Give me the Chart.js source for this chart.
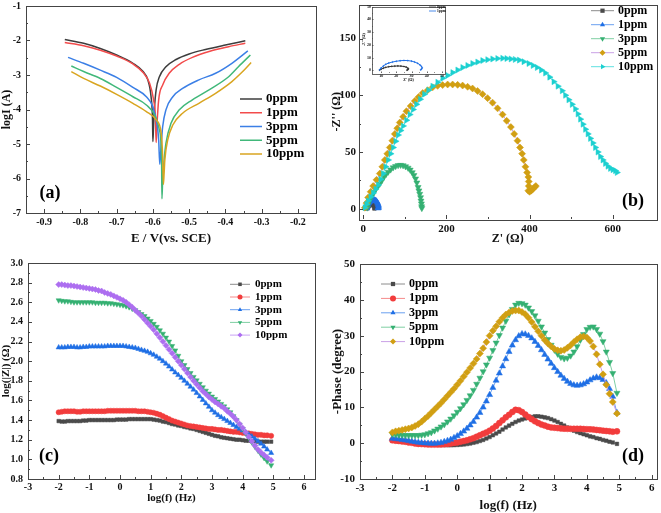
<!DOCTYPE html>
<html>
<head>
<meta charset="utf-8">
<script src="https://cdn.jsdelivr.net/npm/chart.js@4.4.1/dist/chart.umd.min.js"></script>
<style>
  body { margin: 0; background: #fff; }
  #fig { position: relative; width: 661px; height: 513px; overflow: hidden; }
  #fig canvas { position: absolute; }
  .tag { position: absolute; transform: translate(-50%, -50%); font: bold 18px "Liberation Serif", serif; color: #000; }
</style>
</head>
<body>
<div id="fig">
  <canvas id="polar" width="330" height="250" style="left:0;top:0"></canvas>
  <canvas id="nyq" width="331" height="250" style="left:330px;top:0"></canvas>
  <canvas id="nyqIn" width="88" height="80" style="left:362px;top:2px"></canvas>
  <canvas id="bodeZ" width="330" height="263" style="left:0;top:250px"></canvas>
  <canvas id="bodeP" width="331" height="263" style="left:330px;top:250px"></canvas>
  <div class="tag" style="left:50px;top:192px">(a)</div>
  <div class="tag" style="left:633px;top:200px">(b)</div>
  <div class="tag" style="left:49px;top:455px">(c)</div>
  <div class="tag" style="left:633px;top:455px">(d)</div>
</div>
<script>
var ppm = ['0ppm', '1ppm', '3ppm', '5ppm', '10ppm'];

// (a) polarization curves: E (V vs SCE) and log I
var e0 = [-0.843, -0.791, -0.745, -0.700, -0.655, -0.627, -0.614, -0.605, -0.601, -0.600, -0.598, -0.596, -0.591, -0.582, -0.564, -0.536, -0.500, -0.455, -0.400, -0.345];
var logI0 = [-1.97, -2.08, -2.23, -2.42, -2.66, -2.90, -3.14, -3.63, -4.30, -4.93, -4.45, -4.01, -3.43, -3.05, -2.76, -2.55, -2.39, -2.26, -2.13, -2.01];
var e1 = [-0.843, -0.791, -0.745, -0.700, -0.655, -0.627, -0.609, -0.598, -0.593, -0.591, -0.589, -0.584, -0.573, -0.555, -0.527, -0.491, -0.445, -0.391, -0.345];
var logI1 = [-2.06, -2.15, -2.28, -2.45, -2.68, -2.93, -3.24, -3.72, -4.21, -4.96, -4.50, -3.72, -3.29, -2.95, -2.69, -2.49, -2.32, -2.18, -2.08];
var e3 = [-0.834, -0.791, -0.745, -0.700, -0.655, -0.618, -0.600, -0.589, -0.584, -0.581, -0.578, -0.573, -0.564, -0.545, -0.518, -0.473, -0.427, -0.382, -0.338];
var logI3 = [-2.49, -2.66, -2.86, -3.07, -3.36, -3.63, -3.92, -4.40, -4.88, -5.59, -5.17, -4.50, -4.01, -3.63, -3.39, -3.14, -2.95, -2.66, -2.30];
var e5 = [-0.825, -0.791, -0.745, -0.700, -0.655, -0.618, -0.595, -0.582, -0.576, -0.575, -0.573, -0.569, -0.564, -0.550, -0.527, -0.491, -0.445, -0.391, -0.364, -0.331];
var logI5 = [-2.74, -2.90, -3.10, -3.36, -3.63, -3.87, -4.16, -4.59, -5.46, -6.59, -6.04, -5.46, -4.98, -4.40, -4.01, -3.72, -3.43, -3.05, -2.76, -2.42];
var e10 = [-0.825, -0.791, -0.745, -0.700, -0.655, -0.618, -0.591, -0.577, -0.573, -0.571, -0.569, -0.567, -0.559, -0.545, -0.518, -0.473, -0.427, -0.382, -0.355, -0.329];
var logI10 = [-2.90, -3.10, -3.32, -3.56, -3.82, -4.06, -4.30, -4.69, -5.37, -6.17, -5.85, -5.46, -4.88, -4.45, -4.11, -3.82, -3.53, -3.19, -2.93, -2.64];

// (b) Nyquist: Z' and -Z'' in ohm
var zr0 = [9, 10, 11.5, 13, 15, 17, 19, 21, 23, 25, 26.5, 27.5, 28, 27.5, 27];
var zi0 = [0.3, 1, 1.8, 2.4, 2.9, 3.2, 3.4, 3.5, 3.4, 3.1, 2.6, 1.9, 1.2, 0.6, 0.2];
var zr1 = [9, 10, 11.5, 13, 15, 17.5, 20, 22.5, 25, 27.5, 30, 32, 34, 35.5, 36.5, 37, 36.5, 36];
var zi1 = [0.5, 2, 3.5, 4.8, 5.8, 6.6, 7.2, 7.6, 7.8, 7.7, 7.3, 6.6, 5.6, 4.4, 3.2, 2, 1, 0.5];
var zr3 = [10, 12, 15, 18, 22, 26, 30, 35, 40, 45, 50, 55, 60, 66, 72, 78, 84, 90, 96, 102, 108, 113, 118, 122, 126, 129, 132, 134, 136, 138, 139, 140, 140.5, 141];
var zi3 = [1, 4, 7, 9.5, 12, 14.5, 17, 19.5, 22, 25, 28, 30.5, 32.5, 34.5, 36.3, 37.5, 38.3, 38.5, 38.2, 37.3, 36, 34.3, 32, 29.5, 26.5, 23, 19, 16, 13, 10, 7, 4.5, 2, 0.5];
var zr5 = [4, 8, 12, 18, 24, 32, 40, 46, 52, 58, 64, 70, 76, 82, 88, 96, 104, 114, 124, 133, 143, 155, 167, 179, 191, 203, 215, 227, 239, 251, 263, 275, 287, 299, 311, 323, 335, 345, 355, 363, 371, 377, 382, 386, 390, 394, 397, 398, 398, 397, 400, 404, 408, 412, 415];
var zi5 = [1, 5, 10, 15, 20, 25.5, 31, 37, 43, 48.5, 54, 60, 66, 71, 76, 81, 86, 90.5, 95, 98.5, 102, 104.5, 107, 108.3, 109, 109.5, 109.5, 109.2, 108.6, 107.5, 106, 103.8, 101, 97.5, 93.5, 88.5, 83, 77.5, 72, 66, 60, 54, 48.6, 43, 37, 32, 28, 24, 20, 16, 15, 16, 17.5, 19, 20];
var zr10 = [4, 8, 12, 18, 24, 30, 36, 42, 48, 54, 60, 66, 72, 78, 84, 90, 96, 104, 112, 120, 128, 137, 147, 157, 167, 179, 191, 203, 215, 227, 239, 251, 263, 275, 287, 299, 311, 323, 335, 345, 355, 365, 375, 386, 398, 408, 418, 428, 438, 448, 458, 468, 478, 486, 494, 502, 510, 516, 522, 528, 534, 540, 546, 552, 558, 564, 570, 576, 582, 588, 594, 600, 606, 610];
var zi10 = [1, 4, 7, 10.5, 14, 17.5, 21, 26, 31, 37, 43, 48.5, 54, 59.5, 65, 69, 73, 78, 83, 87.5, 92, 96.5, 101, 104.5, 108, 111.5, 115, 117.5, 120, 122.3, 124.5, 126.3, 128, 129.3, 130.6, 131.4, 132, 132.4, 132.6, 132.4, 132, 131.6, 131, 129.6, 128, 126.3, 124.5, 122.2, 119.6, 116, 112, 108, 104, 100, 96, 92, 88, 83.5, 79, 74.5, 70, 66, 62, 58, 54, 50, 46, 43, 40, 37.5, 35.6, 34.5, 33.6, 32];

// (c)/(d) Bode: log f, log|Z|, -phase (one row per decade)
var logF = [-2.0, -1.9, -1.8, -1.7, -1.6, -1.5, -1.4, -1.3, -1.2, -1.1,
  -1.0, -0.9, -0.8, -0.7, -0.6, -0.5, -0.4, -0.3, -0.2, -0.1,
  0.0, 0.1, 0.2, 0.3, 0.4, 0.5, 0.6, 0.7, 0.8, 0.9,
  1.0, 1.1, 1.2, 1.3, 1.4, 1.5, 1.6, 1.7, 1.8, 1.9,
  2.0, 2.1, 2.2, 2.3, 2.4, 2.5, 2.6, 2.7, 2.8, 2.9,
  3.0, 3.1, 3.2, 3.3, 3.4, 3.5, 3.6, 3.7, 3.8, 3.9,
  4.0, 4.1, 4.2, 4.3, 4.4, 4.5, 4.6, 4.7, 4.8, 4.93];
var absZ0 = [1.39, 1.385, 1.385, 1.39, 1.39, 1.39, 1.39, 1.39, 1.395, 1.395,
  1.40, 1.40, 1.40, 1.40, 1.40, 1.40, 1.40, 1.40, 1.40, 1.405,
  1.405, 1.405, 1.405, 1.41, 1.41, 1.41, 1.41, 1.41, 1.41, 1.41,
  1.41, 1.405, 1.40, 1.395, 1.385, 1.38, 1.37, 1.36, 1.355, 1.345,
  1.34, 1.33, 1.325, 1.315, 1.31, 1.30, 1.29, 1.28, 1.27, 1.26,
  1.25, 1.24, 1.235, 1.225, 1.22, 1.215, 1.21, 1.205, 1.20, 1.20,
  1.195, 1.19, 1.19, 1.185, 1.185, 1.18, 1.18, 1.18, 1.18, 1.18];
var absZ1 = [1.48, 1.485, 1.49, 1.49, 1.49, 1.49, 1.485, 1.485, 1.49, 1.49,
  1.49, 1.49, 1.49, 1.49, 1.49, 1.49, 1.495, 1.495, 1.495, 1.495,
  1.495, 1.495, 1.495, 1.495, 1.495, 1.495, 1.49, 1.49, 1.49, 1.485,
  1.48, 1.475, 1.465, 1.455, 1.44, 1.425, 1.41, 1.395, 1.385, 1.375,
  1.365, 1.355, 1.345, 1.34, 1.335, 1.33, 1.325, 1.32, 1.315, 1.31,
  1.31, 1.305, 1.30, 1.30, 1.295, 1.29, 1.285, 1.28, 1.28, 1.275,
  1.27, 1.268, 1.265, 1.26, 1.255, 1.25, 1.25, 1.245, 1.245, 1.24];
var absZ3 = [2.14, 2.14, 2.14, 2.145, 2.145, 2.145, 2.14, 2.14, 2.145, 2.145,
  2.15, 2.15, 2.15, 2.15, 2.15, 2.15, 2.155, 2.155, 2.155, 2.155,
  2.155, 2.155, 2.15, 2.145, 2.14, 2.135, 2.125, 2.115, 2.105, 2.095,
  2.08, 2.065, 2.045, 2.025, 2.00, 1.975, 1.945, 1.915, 1.885, 1.858,
  1.83, 1.80, 1.77, 1.74, 1.71, 1.675, 1.64, 1.605, 1.57, 1.535,
  1.50, 1.475, 1.45, 1.43, 1.41, 1.39, 1.37, 1.35, 1.33, 1.312,
  1.295, 1.275, 1.255, 1.232, 1.21, 1.185, 1.16, 1.13, 1.10, 1.065];
var absZ5 = [2.62, 2.615, 2.61, 2.61, 2.605, 2.60, 2.60, 2.60, 2.60, 2.60,
  2.60, 2.60, 2.595, 2.595, 2.595, 2.595, 2.59, 2.59, 2.585, 2.58,
  2.575, 2.57, 2.56, 2.55, 2.535, 2.52, 2.50, 2.48, 2.46, 2.435,
  2.41, 2.38, 2.35, 2.315, 2.28, 2.24, 2.20, 2.155, 2.11, 2.055,
  2.00, 1.96, 1.92, 1.88, 1.84, 1.805, 1.77, 1.735, 1.70, 1.67,
  1.64, 1.615, 1.59, 1.565, 1.54, 1.51, 1.48, 1.44, 1.40, 1.355,
  1.31, 1.265, 1.22, 1.175, 1.13, 1.09, 1.05, 1.015, 0.98, 0.94];
var absZ10 = [2.78, 2.78, 2.775, 2.77, 2.77, 2.765, 2.76, 2.755, 2.75, 2.745,
  2.74, 2.735, 2.73, 2.72, 2.715, 2.70, 2.69, 2.68, 2.665, 2.65,
  2.635, 2.62, 2.60, 2.575, 2.55, 2.52, 2.49, 2.46, 2.425, 2.39,
  2.355, 2.32, 2.28, 2.24, 2.20, 2.16, 2.12, 2.08, 2.04, 2.00,
  1.96, 1.92, 1.88, 1.84, 1.80, 1.765, 1.73, 1.695, 1.665, 1.635,
  1.61, 1.585, 1.565, 1.54, 1.52, 1.49, 1.465, 1.435, 1.40, 1.36,
  1.32, 1.275, 1.23, 1.185, 1.14, 1.10, 1.07, 1.045, 1.02, 0.99];
var phase0 = [0.7, 0.6, 0.5, 0.4, 0.3, 0.2, 0.1, 0, -0.1, -0.15,
  -0.2, -0.3, -0.35, -0.4, -0.45, -0.5, -0.55, -0.6, -0.6, -0.55,
  -0.5, -0.45, -0.35, -0.25, -0.1, 0.1, 0.3, 0.6, 0.9, 1.3,
  1.7, 2.2, 2.7, 3.2, 3.8, 4.4, 4.9, 5.4, 5.9, 6.3,
  6.6, 6.9, 7.1, 7.3, 7.5, 7.5, 7.4, 7.2, 7.0, 6.7,
  6.3, 5.9, 5.4, 4.9, 4.4, 3.9, 3.5, 3.1, 2.8, 2.5,
  2.2, 1.9, 1.7, 1.4, 1.2, 0.9, 0.7, 0.4, 0.2, -0.2];
var phase1 = [0.8, 0.7, 0.6, 0.5, 0.4, 0.2, 0.1, -0.1, -0.2, -0.25,
  -0.3, -0.35, -0.4, -0.4, -0.4, -0.35, -0.3, -0.2, -0.1, 0.05,
  0.2, 0.4, 0.6, 0.8, 1.1, 1.4, 1.8, 2.2, 2.6, 3.0,
  3.5, 4.1, 4.8, 5.6, 6.4, 7.2, 7.9, 8.7, 9.3, 9.2,
  8.7, 8.0, 7.3, 6.7, 6.1, 5.6, 5.2, 4.9, 4.6, 4.4,
  4.3, 4.2, 4.1, 4.05, 4.0, 4.0, 4.0, 4.0, 4.0, 3.95,
  3.9, 3.85, 3.8, 3.7, 3.6, 3.5, 3.4, 3.3, 3.2, 3.3];
var phase3 = [1.3, 1.2, 1.1, 0.95, 0.8, 0.65, 0.5, 0.35, 0.2, 0.1,
  0, -0.05, -0.1, -0.1, 0, 0.15, 0.4, 0.7, 1.0, 1.5,
  2.0, 2.6, 3.3, 4.1, 5.0, 6.0, 7.2, 8.5, 10.0, 11.7,
  13.5, 15.5, 17.5, 19.5, 21.5, 23.5, 25.5, 27.3, 28.8, 29.9,
  30.5, 30.4, 30.0, 29.3, 28.3, 27.2, 26.0, 24.7, 23.4, 22.2,
  21.0, 19.9, 18.9, 18.0, 17.2, 16.6, 16.2, 16.1, 16.2, 16.5,
  17.0, 17.6, 18.1, 18.4, 18.2, 17.7, 16.8, 15.2, 13.0, 8.5];
var phase5 = [2.5, 2.4, 2.3, 2.25, 2.2, 2.2, 2.2, 2.2, 2.2, 2.3,
  2.4, 2.7, 3.0, 3.5, 4.0, 4.6, 5.2, 6.0, 6.8, 7.7,
  8.7, 9.7, 10.8, 12.0, 13.3, 14.8, 16.5, 18.2, 20.0, 21.9,
  23.8, 25.9, 28.0, 30.1, 32.2, 34.1, 35.9, 37.4, 38.6, 39.1,
  39.0, 38.6, 37.8, 36.8, 35.6, 34.1, 32.5, 30.8, 29.0, 27.4,
  26.0, 24.9, 24.0, 23.6, 23.8, 24.4, 25.5, 27.0, 28.8, 30.4,
  31.8, 32.4, 32.5, 31.8, 30.5, 28.4, 25.5, 22.6, 19.5, 14.0];
var phase10 = [3.0, 3.3, 3.5, 3.7, 3.9, 4.1, 4.4, 4.8, 5.3, 6.0,
  6.8, 7.6, 8.5, 9.4, 10.3, 11.2, 12.2, 13.2, 14.2, 15.2,
  16.3, 17.4, 18.6, 19.8, 21.0, 22.2, 23.5, 25.0, 26.5, 28.2,
  30.0, 31.4, 32.6, 33.9, 35.0, 35.9, 36.5, 36.9, 37.0, 37.0,
  36.6, 36.0, 35.0, 33.8, 32.5, 31.2, 30.0, 28.8, 27.8, 27.0,
  26.3, 25.9, 25.8, 26.0, 26.6, 27.3, 28.2, 29.0, 29.6, 29.8,
  29.5, 28.5, 27.0, 24.8, 22.0, 19.2, 16.3, 13.8, 11.5, 8.3];

// tick labels
var ticksEx = [-0.9, -0.8, -0.7, -0.6, -0.5, -0.4, -0.3, -0.2];
var ticksLogI = [-7, -6, -5, -4, -3, -2, -1];
var ticksZr = [0, 200, 400, 600];
var ticksZi = [0, 50, 100, 150];
var ticksF = [-3, -2, -1, 0, 1, 2, 3, 4, 5, 6];
var ticksAbs = [0.8, 1.0, 1.2, 1.4, 1.6, 1.8, 2.0, 2.2, 2.4, 2.6, 2.8, 3.0];
var ticksPh = [-10, 0, 10, 20, 30, 40, 50];
var ticksInX = [10, 20, 30, 40, 50];
var ticksInY = [0, 10, 20, 30, 40, 50];

var serif = '"Liberation Serif", "Times New Roman", serif';

// box frame plus small inward ticks, Origin style
var framePlugin = {
  id: 'frame',
  afterDatasetsDraw: function (chart, args, o) {
    var a = chart.chartArea, ctx = chart.ctx;
    var sx = chart.scales.x, sy = chart.scales.y;
    ctx.save();
    ctx.strokeStyle = o.color || '#333';
    ctx.lineWidth = o.width || 1;
    ctx.strokeRect(Math.round(a.left) + 0.5, Math.round(a.top) + 0.5, Math.round(a.right - a.left), Math.round(a.bottom - a.top));
    var big = o.tick || 4, small = big / 2;
    ctx.beginPath();
    var xs = sx.ticks.map(function (t) { return t.value; });
    xs.forEach(function (v, i) {
      var p = Math.round(sx.getPixelForValue(v)) + 0.5;
      ctx.moveTo(p, a.bottom); ctx.lineTo(p, a.bottom - big);
      if (i > 0) {
        var m = Math.round(sx.getPixelForValue((v + xs[i - 1]) / 2)) + 0.5;
        ctx.moveTo(m, a.bottom); ctx.lineTo(m, a.bottom - small);
      }
    });
    var ys = sy.ticks.map(function (t) { return t.value; });
    ys.forEach(function (v, i) {
      var p = Math.round(sy.getPixelForValue(v)) + 0.5;
      ctx.moveTo(a.left, p); ctx.lineTo(a.left + big, p);
      if (i > 0) {
        var m = Math.round(sy.getPixelForValue((v + ys[i - 1]) / 2)) + 0.5;
        ctx.moveTo(a.left, m); ctx.lineTo(a.left + small, m);
      }
    });
    ctx.stroke();
    ctx.restore();
  }
};

// legend drawn inside the plot, one row per dataset
var keyPlugin = {
  id: 'key',
  afterDraw: function (chart, args, o) {
    var ctx = chart.ctx;
    ctx.save();
    ctx.font = 'bold ' + o.size + 'px ' + serif;
    ctx.textBaseline = 'middle';
    chart.data.datasets.forEach(function (ds, i) {
      var yy = o.y + i * o.gap;
      ctx.strokeStyle = ds.borderColor;
      ctx.lineWidth = o.lw || 1;
      ctx.beginPath();
      ctx.moveTo(o.x0, yy); ctx.lineTo(o.x1, yy);
      ctx.stroke();
      if (o.r) {
        ctx.fillStyle = ds.pointBackgroundColor;
        Chart.helpers.drawPoint(ctx, { pointStyle: ds.pointStyle, rotation: ds.pointRotation || 0, radius: o.r, borderWidth: 0 }, (o.x0 + o.x1) / 2, yy);
      }
      ctx.fillStyle = '#000';
      ctx.fillText(ds.label, o.tx, yy);
    });
    ctx.restore();
  }
};

function axis(min, max, ticks, digits, size, pad, title, tsize, tpad, boxSize) {
  return {
    type: 'linear', min: min, max: max,
    grid: { display: false, drawTicks: false },
    border: { display: false },
    afterBuildTicks: function (s) { s.ticks = ticks.map(function (v) { return { value: v }; }); },
    ticks: {
      padding: pad, color: '#111', autoSkip: false, maxRotation: 0,
      font: { family: serif, size: size, weight: 'bold' },
      callback: function (v) { return Number(v).toFixed(digits); }
    },
    title: {
      display: true, text: title, color: '#111', padding: { top: tpad, bottom: tpad },
      font: { family: serif, size: tsize, weight: 'bold' }
    },
    afterFit: function (s) {
      if (s.isHorizontal()) { s.height = boxSize; s.paddingLeft = 0; s.paddingRight = 0; }
      else { s.width = boxSize; s.paddingTop = 0; s.paddingBottom = 0; }
    }
  };
}

function pts(xs, ys) {
  return xs.map(function (x, i) { return { x: x, y: ys[i] }; });
}

function curve(xs, ys, i, color) {
  return {
    label: ppm[i], data: pts(xs, ys), showLine: true, order: -i,
    borderColor: color, borderWidth: 1.5, pointRadius: 0,
    cubicInterpolationMode: 'monotone'
  };
}

function marks(xs, ys, i, fill, line, shape, rot, r) {
  return {
    label: ppm[i], data: pts(xs, ys), showLine: true, order: -i,
    borderColor: line, borderWidth: 1,
    pointStyle: shape, pointRotation: rot, pointRadius: r,
    pointBackgroundColor: fill, pointBorderColor: fill, pointBorderWidth: 0.5
  };
}

function makeChart(id, datasets, pad, xAxis, yAxis, frame, key) {
  return new Chart(document.getElementById(id), {
    type: 'scatter',
    data: { datasets: datasets },
    options: {
      responsive: false, animation: false, events: [],
      layout: { padding: pad },
      scales: { x: xAxis, y: yAxis },
      plugins: { legend: { display: false }, tooltip: { enabled: false }, frame: frame, key: key }
    },
    plugins: [framePlugin, keyPlugin]
  });
}

var gray = '#4a4a4a', red = '#f23c3c', blue = '#1f6fe5', green = '#35b072', gold = '#d19f12', cyan = '#1cd0d0', purple = '#ad6ef0';

// (a)
makeChart('polar', [
  curve(e0, logI0, 0, '#3d3d3d'),
  curve(e1, logI1, 1, '#f24b4b'),
  curve(e3, logI3, 2, '#3b7fe6'),
  curve(e5, logI5, 3, '#41b87a'),
  curve(e10, logI10, 4, '#d9a520')
], { left: 0, top: 6, right: 14, bottom: 0 },
  axis(-0.95, -0.15, ticksEx, 1, 10, 3, 'E / V(vs. SCE)', 13, 4, 37),
  axis(-7, -1, ticksLogI, 0, 10, 5, 'logI (A)', 12, 0, 26),
  { color: '#444' },
  { x0: 240, x1: 262, tx: 266, y: 99, gap: 13.75, size: 13, lw: 1.5 });

// (b)
makeChart('nyq', [
  marks(zr0, zi0, 0, gray, '#8c8c8c', 'rect', 0, 2.5),
  marks(zr1, zi1, 1, blue, '#6aa0f0', 'triangle', 0, 3.5),
  marks(zr3, zi3, 2, green, '#7fcfa3', 'triangle', 180, 3.5),
  marks(zr5, zi5, 3, gold, '#c9a0e6', 'rectRot', 0, 3.5),
  marks(zr10, zi10, 4, cyan, '#5fe0e0', 'triangle', 90, 3.5)
], { left: 0, top: 3, right: 3, bottom: 0 },
  axis(-10, 705, ticksZr, 0, 11, 4, "Z' (\u03A9)", 12, 4, 31),
  axis(-9, 180, ticksZi, 0, 11, 3, "-Z'' (\u03A9)", 12, 0, 29),
  { color: '#444' },
  { x0: 261, x1: 284, tx: 288, y: 10.7, gap: 14, size: 12, r: 3 });

// (b) inset: the two small arcs
makeChart('nyqIn', [
  marks(zr0, zi0, 0, '#333', '#333', 'circle', 0, 0.6),
  marks(zr1, zi1, 1, blue, blue, 'circle', 0, 0.6)
], { left: 0, top: 2, right: 5, bottom: 0 },
  axis(4, 52, ticksInX, 0, 4, 1, "Z' (\u03A9)", 4, 0, 9),
  axis(-2, 50, ticksInY, 0, 4, 1, "-Z'' (\u03A9)", 4, 0, 10),
  { color: '#444', width: 0.8, tick: 1.5 },
  { x0: 67, x1: 74, tx: 75, y: 5, gap: 4, size: 3.5, lw: 0.8 });

// (c)
makeChart('bodeZ', [
  marks(logF, absZ0, 0, gray, '#8c8c8c', 'rect', 0, 2.5),
  marks(logF, absZ1, 1, red, '#f58a8a', 'circle', 0, 2.6),
  marks(logF, absZ3, 2, blue, '#6aa0f0', 'triangle', 0, 3),
  marks(logF, absZ5, 3, green, '#7fcfa3', 'triangle', 180, 3),
  marks(logF, absZ10, 4, purple, '#c9a3f5', 'rectRot', 0, 3)
], { left: 0, top: 13, right: 15, bottom: 0 },
  axis(-3, 6.36, ticksF, 0, 10, 2, 'log(f) (Hz)', 11, 8, 34),
  axis(0.8, 3.0, ticksAbs, 1, 10, 5, 'log(|Z|) (\u03A9)', 11, 0, 28),
  { color: '#444' },
  { x0: 230, x1: 250, tx: 255, y: 34.3, gap: 12.7, size: 11, r: 2.5 });

// (d)
makeChart('bodeP', [
  marks(logF, phase0, 0, gray, '#8c8c8c', 'rect', 0, 2.5),
  marks(logF, phase1, 1, red, '#f58a8a', 'circle', 0, 3),
  marks(logF, phase3, 2, blue, '#6aa0f0', 'triangle', 0, 3.5),
  marks(logF, phase5, 3, green, '#7fcfa3', 'triangle', 180, 3.5),
  marks(logF, phase10, 4, gold, '#c9a0e6', 'rectRot', 0, 3.5)
], { left: 0, top: 14, right: 1, bottom: 0 },
  axis(-3, 6.15, ticksF, 0, 11, 3, 'log(f) (Hz)', 13, 0, 34),
  axis(-10, 50, ticksPh, 0, 11, 5, '-Phase (degree)', 13, 0, 30),
  { color: '#444' },
  { x0: 51, x1: 75, tx: 79, y: 34, gap: 14.4, size: 12, r: 3 });
</script>
</body>
</html>
